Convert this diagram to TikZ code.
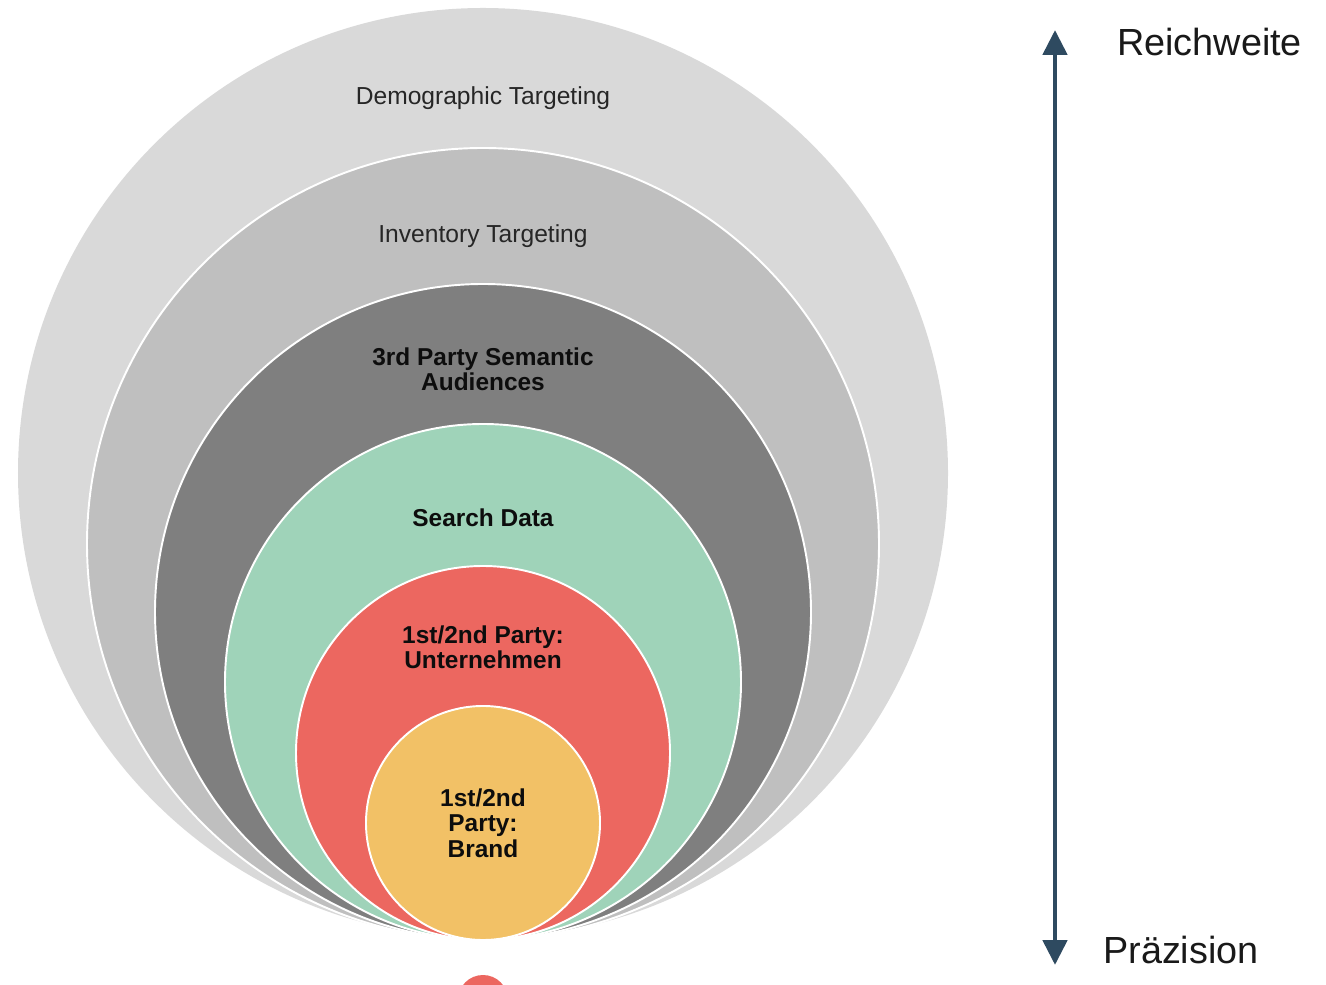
\documentclass[tikz,border=0pt]{standalone}
\usepackage{fontspec}
\setmainfont{Liberation Sans}
\usepackage{tikz}
\usetikzlibrary{positioning, calc, arrows.meta, shapes}
\definecolor{ringA}{HTML}{D9D9D9}
\definecolor{ringB}{HTML}{BFBFBF}
\definecolor{ringC}{HTML}{7F7F7F}
\definecolor{ringD}{HTML}{9FD3B9}
\definecolor{ringE}{HTML}{EC6760}
\definecolor{ringF}{HTML}{F2C166}
\definecolor{axis}{HTML}{2E4A60}
\tikzset{>=latex}

\begin{document}
\begin{tikzpicture}[ring/.style={circle,draw=white,line width=1.1pt,inner sep=0pt},
    lbl/.style={align=center,font=\fontsize{14}{15}\selectfont,text=black!85},
    bold/.style={align=center,font=\fontsize{13.9}{14.4}\selectfont\bfseries,text=black!95},
    big/.style={anchor=west,font=\fontsize{21.5}{24}\selectfont,text=black!90}]
    \useasboundingbox (0,0) rectangle (26.52,-19.70);
    \begin{scope}
    \clip (0,0) rectangle (26.52,-19.70);
    \node[ring,draw=none,fill=ringA,minimum size=18.6cm] (demo) at (9.66,-9.46) {};
    \node[ring,fill=ringB,minimum size=15.84cm] (inv) at (9.66,-10.88) {};
    \node[ring,fill=ringC,minimum size=13.12cm] (sem) at (9.66,-12.24) {};
    \node[ring,fill=ringD,minimum size=10.32cm] (search) at (9.66,-13.64) {};
    \node[ring,fill=ringE,minimum size=7.48cm] (comp) at (9.66,-15.06) {};
    \node[ring,fill=ringF,minimum size=4.68cm] (brand) at (9.66,-16.46) {};
    \node[ring,draw=none,fill=ringE,minimum size=1cm] (dot) at (9.66,-20.0) {};
    \end{scope}
    % labels
    \node[lbl] (demoL) at (9.66,-1.96) {Demographic Targeting};
    \node[lbl] (invL) at (9.66,-4.72) {Inventory Targeting};
    \node[bold] (semL) at (9.66,-7.38) {3rd Party Semantic\\Audiences};
    \node[bold] (searchL) at (9.66,-10.36) {Search Data};
    \node[bold] (compL) at (9.66,-12.94) {1st/2nd Party:\\Unternehmen};
    \node[bold] (brandL) at (brand.center) {1st/2nd\\Party:\\Brand};
    % axis
    \coordinate (up) at (21.1,-0.6);
    \coordinate (down) at (21.1,-19.3);
    \node[big] (reach) at (22.22,-0.84) {Reichweite};
    \node[big] (prec) at (21.94,-19.0) {Präzision};
    \draw[axis,line width=2.8pt,{Triangle[width=0.48cm,length=0.5cm]}-{Triangle[width=0.48cm,length=0.5cm]}] (up) -- (down);
\end{tikzpicture}
\end{document}
